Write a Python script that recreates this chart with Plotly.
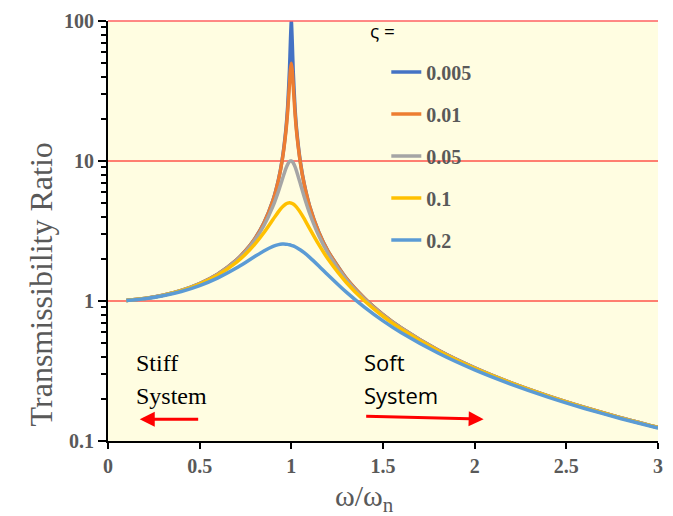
import plotly.graph_objects as go

# frequency ratio values (omega / omega_n)
ratio = [0.1, 0.2, 0.3, 0.4, 0.5, 0.6, 0.7, 0.75, 0.8, 0.85, 0.9, 0.93, 0.95, 0.97, 0.98,
         0.99, 0.995, 1.0, 1.005, 1.01, 1.02, 1.03, 1.05, 1.07, 1.1, 1.15, 1.2, 1.3, 1.4,
         1.5, 1.6, 1.8, 2.0, 2.2, 2.4, 2.6, 2.8, 3.0]

tr_0005 = [1.010, 1.042, 1.099, 1.190, 1.333, 1.562, 1.961, 2.286, 2.778, 3.604, 5.257, 7.384,
           10.21, 16.70, 24.52, 45.0, 71.0, 100.0, 70.45, 44.46, 24.0, 16.19, 9.706, 6.883,
           4.755, 3.099, 2.273, 1.449, 1.042, 0.800, 0.641, 0.446, 0.333, 0.260, 0.210,
           0.1736, 0.1462, 0.125]
tr_001 = [1.010, 1.042, 1.099, 1.190, 1.333, 1.562, 1.960, 2.285, 2.776, 3.597, 5.240, 7.333,
          10.07, 16.08, 22.63, 35.62, 44.92, 50.0, 44.52, 35.09, 22.10, 15.56, 9.558, 6.827,
          4.736, 3.093, 2.270, 1.449, 1.042, 0.800, 0.641, 0.446, 0.333, 0.260, 0.210,
          0.1736, 0.1462, 0.125]
tr_005 = [1.010, 1.041, 1.098, 1.189, 1.330, 1.556, 1.943, 2.253, 2.712, 3.446, 4.757, 6.097,
          7.346, 8.804, 9.461, 9.903, 10.0, 10.0, 9.901, 9.711, 9.115, 8.357, 6.815, 5.552,
          4.218, 2.921, 2.193, 1.424, 1.031, 0.794, 0.638, 0.445, 0.333, 0.260, 0.210,
          0.1734, 0.1461, 0.1249]
tr_01 = [1.010, 1.041, 1.097, 1.185, 1.322, 1.536, 1.891, 2.162, 2.538, 3.073, 3.821, 4.350,
         4.683, 4.931, 5.001, 5.025, 5.019, 5.0, 4.969, 4.926, 4.809, 4.655, 4.279, 3.869,
         3.288, 2.525, 1.995, 1.356, 1.0, 0.778, 0.628, 0.441, 0.330, 0.259, 0.209,
         0.1729, 0.1457, 0.1247]
tr_02 = [1.009, 1.038, 1.090, 1.169, 1.288, 1.463, 1.719, 1.885, 2.076, 2.279, 2.457, 2.527,
         2.549, 2.548, 2.538, 2.522, 2.512, 2.5, 2.487, 2.472, 2.439, 2.401, 2.313, 2.213,
         2.051, 1.780, 1.536, 1.157, 0.900, 0.721, 0.593, 0.425, 0.322, 0.254, 0.206,
         0.1708, 0.1443, 0.1236]

series_names = ["0.005", "0.01", "0.05", "0.1", "0.2"]
series_values = [tr_0005, tr_001, tr_005, tr_01, tr_02]
series_colors = ["#4472C4", "#ED7D31", "#A5A5A5", "#FFC000", "#5B9BD5"]

x_ticks = [0, 0.5, 1, 1.5, 2, 2.5, 3]
x_tick_labels = ["0", "0.5", "1", "1.5", "2", "2.5", "3"]
y_ticks = [0.1, 1, 10, 100]
y_tick_labels = ["0.1", "1", "10", "100"]
y_minor = [0.2, 0.3, 0.4, 0.5, 0.6, 0.7, 0.8, 0.9,
           2, 3, 4, 5, 6, 7, 8, 9,
           20, 30, 40, 50, 60, 70, 80, 90]

GRAY = "#595959"
SERIF = "Liberation Serif, Times New Roman, serif"
SANS = "Open Sans, Liberation Sans, sans-serif"

fig = go.Figure()
for i, (name, vals, col) in enumerate(zip(series_names, series_values, series_colors)):
    fig.add_trace(go.Scatter(
        x=ratio, y=vals, mode="lines", name=name,
        line=dict(color=col, width=3.5, shape="spline", smoothing=0.6),
        legendgroup="g%d" % i,
    ))

# red horizontal gridlines at the decades (the top one sits on the plot edge)
for v in y_ticks[1:-1]:
    fig.add_shape(type="line", xref="paper", x0=0, x1=1, yref="y", y0=v, y1=v,
                  line=dict(color="#FF0000", width=1), layer="below")
fig.add_shape(type="line", xref="paper", x0=0, x1=1, yref="paper", y0=1, y1=1,
              line=dict(color="#FF6060", width=1.5), layer="above")

fig.update_layout(
    width=673, height=516,
    margin=dict(l=108, r=10, t=18, b=75),
    paper_bgcolor="white",
    plot_bgcolor="#FFFDE1",
    showlegend=True,
    legend=dict(
        x=0.506, y=0.925, xanchor="left", yanchor="top",
        bgcolor="rgba(0,0,0,0)",
        tracegroupgap=13,
        font=dict(family=SERIF, size=20, color=GRAY, weight="bold"),
        itemwidth=30,
    ),
    xaxis=dict(
        range=[0, 3], tickvals=x_ticks, ticktext=x_tick_labels,
        showgrid=False, zeroline=False,
        showline=True, linecolor="black", linewidth=2,
        ticks="outside", ticklen=6, tickwidth=2, tickcolor="black",
        tickfont=dict(family=SERIF, size=20, color=GRAY, weight="bold"),
    ),
    yaxis=dict(
        type="log", range=[-1, 2], tickvals=y_ticks, ticktext=y_tick_labels,
        showgrid=False, zeroline=False,
        showline=True, linecolor="black", linewidth=2,
        ticks="outside", ticklen=8, tickwidth=2, tickcolor="black",
        minor=dict(ticks="outside", ticklen=5, tickwidth=1.5, tickcolor="black", showgrid=False,
                   tickvals=y_minor),
        tickfont=dict(family=SERIF, size=20, color=GRAY, weight="bold"),
    ),
)

# axis titles
fig.add_annotation(x=-0.1225, y=0.372, xref="paper", yref="paper", text="Transmissibility Ratio",
                   textangle=-90, showarrow=False, xanchor="center", yanchor="middle",
                   font=dict(family=SERIF, size=32, color=GRAY))
fig.add_annotation(x=0.467, y=-0.136, xref="paper", yref="paper", text="ω/ω<sub>n</sub>",
                   showarrow=False, xanchor="center", yanchor="middle",
                   font=dict(family=SERIF, size=30, color=GRAY))
# legend title
fig.add_annotation(x=0.472, y=0.976, xref="paper", yref="paper", text="ς =",
                   showarrow=False, xanchor="left", yanchor="middle",
                   font=dict(family=SANS, size=19, color="black"))

labels = [
    ("Stiff", 0.1405, -0.440, SERIF, 24), ("System", 0.1405, -0.681, SERIF, 24),
    ("Soft", 1.384, -0.433, SANS, 22), ("System", 1.384, -0.670, SANS, 22),
]
for txt, xx, yy, fam, sz in labels:
    fig.add_annotation(x=xx, y=yy, xref="x", yref="y", text=txt, showarrow=False,
                       xanchor="left", yanchor="middle",
                       font=dict(family=fam, size=sz, color="black"))

# arrows
fig.add_annotation(x=0.173, y=-0.844, ax=0.50, ay=-0.844, xref="x", yref="y", axref="x", ayref="y",
                   text="", showarrow=True, arrowhead=2, arrowsize=1, arrowwidth=3, arrowcolor="#FF0000")
fig.add_annotation(x=2.049, y=-0.844, ax=1.4, ay=-0.8227, xref="x", yref="y", axref="x", ayref="y",
                   text="", showarrow=True, arrowhead=2, arrowsize=1, arrowwidth=3, arrowcolor="#FF0000")

fig.write_html("out.html")
